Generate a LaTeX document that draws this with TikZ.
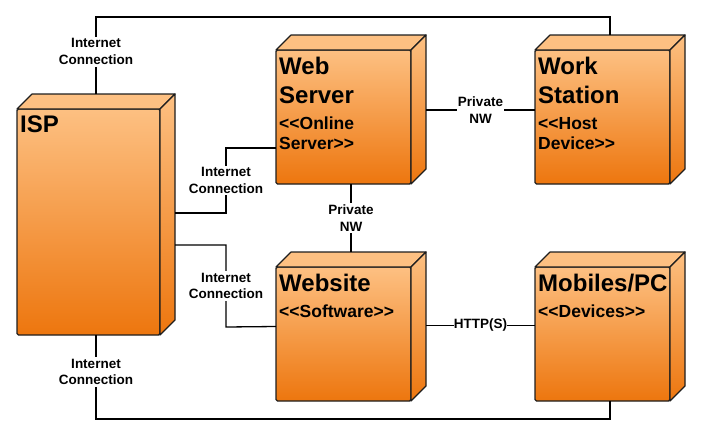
\documentclass[tikz,border=0pt]{standalone}
\usepackage{fontspec}
\setmainfont{Liberation Sans}
\usetikzlibrary{positioning,calc}

\definecolor{nodetop}{RGB}{253,192,130}
\definecolor{nodebot}{RGB}{237,118,14}
\definecolor{edgeclr}{RGB}{30,30,30}

\newcommand{\nodedepth}{15}
\newcommand{\devtitle}{\fontsize{24}{29}\selectfont\bfseries}
\newcommand{\devstereo}{\fontsize{17.5}{20.5}\selectfont\bfseries}
\newcommand{\stereo}[1]{<\kern0pt<#1>\kern0pt>}

\begin{document}
\begin{tikzpicture}[x=1pt, y=1pt,
    devbox/.style={rectangle, rounded corners=1.5pt, draw=edgeclr, line width=1.2pt,
                   top color=nodetop, bottom color=nodebot, inner sep=0pt, outer sep=0pt,
                   minimum width=135pt, minimum height=134pt},
    devface/.style={draw=edgeclr, line width=1.2pt, line join=round},
    devtext/.style={anchor=north west, text width=140pt, align=left,
                    inner xsep=3pt, inner ysep=0pt, yshift=-6.5pt},
    lbl/.style={fill=white, align=center, inner xsep=1pt, inner ysep=2pt,
                font=\fontsize{13.5}{16.5}\selectfont\bfseries},
    link/.style={draw=black, line width=1.3pt}
]
\useasboundingbox (0,0) rectangle (702,-437);

% front faces
\node[devbox, minimum width=143pt, minimum height=226pt] (isp) at (88.5,-222) {};
\node[devbox] (ws) at (343.5,-117) {};
\node[devbox, right=124pt of ws] (wst) {};
\node[devbox, below=83pt of ws] (wsite) {};
\node[devbox, right=124pt of wsite] (mob) {};

% top and side faces
\foreach \n in {isp,ws,wst,wsite,mob}{
  \draw[devface, fill=nodetop] (\n.north west) -- ++(\nodedepth,\nodedepth)
      -- ($(\n.north east)+(\nodedepth,\nodedepth)$) -- (\n.north east) -- cycle;
  \draw[devface, top color=nodetop, bottom color=nodebot] (\n.north east) -- ++(\nodedepth,\nodedepth)
      -- ($(\n.south east)+(\nodedepth,\nodedepth)$) -- (\n.south east) -- cycle;
}

% texts
\node[devtext] (isp-txt) at (isp.north west) {\devtitle ISP};
\node[devtext] (ws-txt) at (ws.north west) {{\devtitle Web\\Server\par}\vspace{5.5pt}{\devstereo\stereo{Online\\Server}\par}};
\node[devtext] (wst-txt) at (wst.north west) {{\devtitle Work\\Station\par}\vspace{5.5pt}{\devstereo\stereo{Host\\Device}\par}};
\node[devtext] (wsite-txt) at (wsite.north west) {{\devtitle Website\par}\vspace{5.5pt}{\devstereo\stereo{Software}\par}};
\node[devtext] (mob-txt) at (mob.north west) {{\devtitle Mobiles/PC\par}\vspace{5.5pt}{\devstereo\stereo{Devices}\par}};

% connections
\draw[link] ($(isp.north)+(7.5,\nodedepth)$) -- node[lbl, pos=0.55] {Internet\\Connection} ++(0,77)
    -| ($(wst.north)+(7.5,\nodedepth)$);
\draw[link] ($(isp.east)+(\nodedepth,9)$) -- ++(51,0) -- node[lbl] {Internet\\Connection} ++(0,65)
    -- ($(ws.west)+(0,-31)$);
\draw[link] ($(isp.east)+(\nodedepth,-23)$) -- ++(51,0) -- node[lbl] {Internet\\Connection} ++(0,-82)
    -- ($(wsite.west)+(0,7.5)$);
\draw[link] ($(isp.south)+(7.5,0)$) -- node[lbl, pos=0.44] {Internet\\Connection} ++(0,-84)
    -| ($(mob.south)+(7.5,0)$);
\draw[link, line width=2.2pt] ($(ws.south)+(7.5,0)$) -- node[lbl] {Private\\NW} ($(wsite.north)+(7.5,\nodedepth)$);
\draw[link] ($(ws.east)+(\nodedepth,7)$) -- node[lbl] {Private\\NW} ($(wst.west)+(0,7)$);
\draw[link] ($(wsite.east)+(\nodedepth,8.5)$) -- node[lbl, inner xsep=0pt] {HTTP(S)} ($(mob.west)+(0,8.5)$);
\end{tikzpicture}
\end{document}
